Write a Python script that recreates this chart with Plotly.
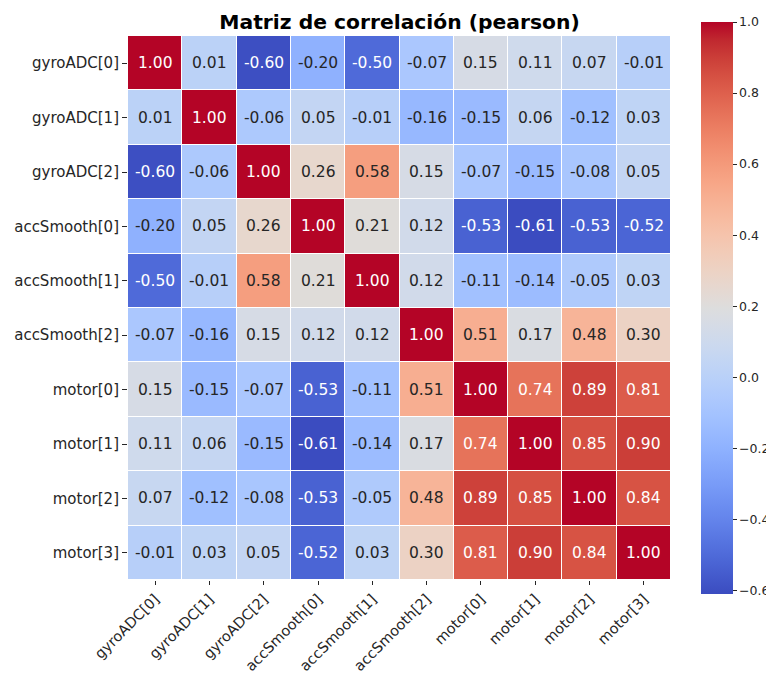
import plotly.graph_objects as go
import numpy as np

labels = ["gyroADC[0]", "gyroADC[1]", "gyroADC[2]", "accSmooth[0]", "accSmooth[1]",
          "accSmooth[2]", "motor[0]", "motor[1]", "motor[2]", "motor[3]"]

corr = [
    [1.00, 0.01, -0.60, -0.20, -0.50, -0.07, 0.15, 0.11, 0.07, -0.01],
    [0.01, 1.00, -0.06, 0.05, -0.01, -0.16, -0.15, 0.06, -0.12, 0.03],
    [-0.60, -0.06, 1.00, 0.26, 0.58, 0.15, -0.07, -0.15, -0.08, 0.05],
    [-0.20, 0.05, 0.26, 1.00, 0.21, 0.12, -0.53, -0.61, -0.53, -0.52],
    [-0.50, -0.01, 0.58, 0.21, 1.00, 0.12, -0.11, -0.14, -0.05, 0.03],
    [-0.07, -0.16, 0.15, 0.12, 0.12, 1.00, 0.51, 0.17, 0.48, 0.30],
    [0.15, -0.15, -0.07, -0.53, -0.11, 0.51, 1.00, 0.74, 0.89, 0.81],
    [0.11, 0.06, -0.15, -0.61, -0.14, 0.17, 0.74, 1.00, 0.85, 0.90],
    [0.07, -0.12, -0.08, -0.53, -0.05, 0.48, 0.89, 0.85, 1.00, 0.84],
    [-0.01, 0.03, 0.05, -0.52, 0.03, 0.30, 0.81, 0.90, 0.84, 1.00],
]

# matplotlib "coolwarm" colormap samples
cw = [
    (0.2298057, 0.298717966, 0.753683153), (0.26623388, 0.353094838, 0.801466763),
    (0.30386891, 0.406535296, 0.84495867), (0.342804478, 0.458757618, 0.883725899),
    (0.38301334, 0.50941904, 0.917387822), (0.424369608, 0.558148092, 0.945619588),
    (0.46666708, 0.604562568, 0.968154911), (0.509635204, 0.648280772, 0.98478814),
    (0.552953156, 0.688929332, 0.995375608), (0.596262162, 0.726149107, 0.999836203),
    (0.639176211, 0.759599947, 0.998151185), (0.681291281, 0.788964712, 0.990363227),
    (0.722193294, 0.813952739, 0.976574709), (0.761464949, 0.834302879, 0.956945269),
    (0.798691636, 0.849786142, 0.931688648), (0.833466556, 0.860207984, 0.901068838),
    (0.865395197, 0.86541021, 0.865395561), (0.897787179, 0.848937047, 0.820880546),
    (0.924127593, 0.827384882, 0.774508472), (0.944468518, 0.800927443, 0.726736146),
    (0.958852946, 0.769767752, 0.678007945), (0.96732803, 0.734132809, 0.628751763),
    (0.969954137, 0.694266682, 0.579375448), (0.966811177, 0.650421156, 0.530263762),
    (0.958003065, 0.602842431, 0.481775914), (0.943660866, 0.551750968, 0.434243684),
    (0.923944917, 0.49730856, 0.387970225), (0.89904617, 0.439559467, 0.343229596),
    (0.869186849, 0.378313092, 0.300267182), (0.834620542, 0.312874446, 0.259301199),
    (0.795631745, 0.24128379, 0.220525627), (0.752534934, 0.157246067, 0.184115123),
    (0.705673158, 0.01555616, 0.150232812),
]
n = len(cw)
colorscale = [[i / (n - 1), "rgb(%d,%d,%d)" % tuple(round(c * 255) for c in col)]
              for i, col in enumerate(cw)]

z = np.array(corr)
zmin, zmax = z.min(), 1.0


def cmap(v):
    t = (v - zmin) / (zmax - zmin)
    t = min(max(t, 0), 1) * (n - 1)
    i = int(np.floor(t))
    if i >= n - 1:
        return cw[-1]
    f = t - i
    return tuple(cw[i][k] * (1 - f) + cw[i + 1][k] * f for k in range(3))


def lum(rgb):
    out = []
    for c in rgb:
        out.append(c / 12.92 if c <= 0.03928 else ((c + 0.055) / 1.055) ** 2.4)
    return 0.2126 * out[0] + 0.7152 * out[1] + 0.0722 * out[2]


font = "DejaVu Sans"
W, H = 766, 665  # page body has an 8px margin, so the figure starts at (8, 8)
fig = go.Figure()
fig.add_trace(go.Heatmap(
    z=corr, x=labels, y=labels, colorscale=colorscale, zmin=zmin, zmax=zmax,
    xgap=1, ygap=1, hoverinfo="skip",
    colorbar=dict(
        thickness=32, lenmode="pixels", len=572, x=1.0552, xanchor="left", xpad=0,
        y=0.5, yanchor="middle", ypad=0, outlinewidth=0,
        tickmode="linear", tick0=0, dtick=0.2, tickformat=".1f",
        ticks="outside", ticklen=4, tickcolor="#262626",
        tickfont=dict(family=font, size=12.5, color="#262626"),
    ),
))

annotations = []
for i in range(len(labels)):
    for j in range(len(labels)):
        v = corr[i][j]
        col = "#262626" if lum(cmap(v)) > 0.408 else "white"
        annotations.append(dict(
            x=labels[j], y=labels[i], text="%.2f" % v, showarrow=False,
            font=dict(family=font, size=15.5, color=col),
        ))

fig.update_layout(
    width=W, height=H,
    margin=dict(l=120, r=103, t=28, b=93, autoexpand=False),
    plot_bgcolor="white", paper_bgcolor="white",
    annotations=annotations,
    title=dict(text="<b>Matriz de correlación (pearson)</b>", x=0.5, xref="paper",
               xanchor="center",
               y=1 - 14 / H, yref="container", yanchor="middle",
               font=dict(family=font, size=20.3, color="black")),
    xaxis=dict(tickangle=-45, ticks="outside", ticklen=4, tickcolor="#262626",
               tickfont=dict(family=font, size=14.5, color="#262626"),
               showgrid=False, zeroline=False, showline=False, automargin=False),
    yaxis=dict(autorange="reversed", ticks="outside", ticklen=5, tickcolor="#262626",
               tickfont=dict(family=font, size=15, color="#262626"),
               showgrid=False, zeroline=False, showline=False, automargin=False),
)

fig.write_html("out.html")
